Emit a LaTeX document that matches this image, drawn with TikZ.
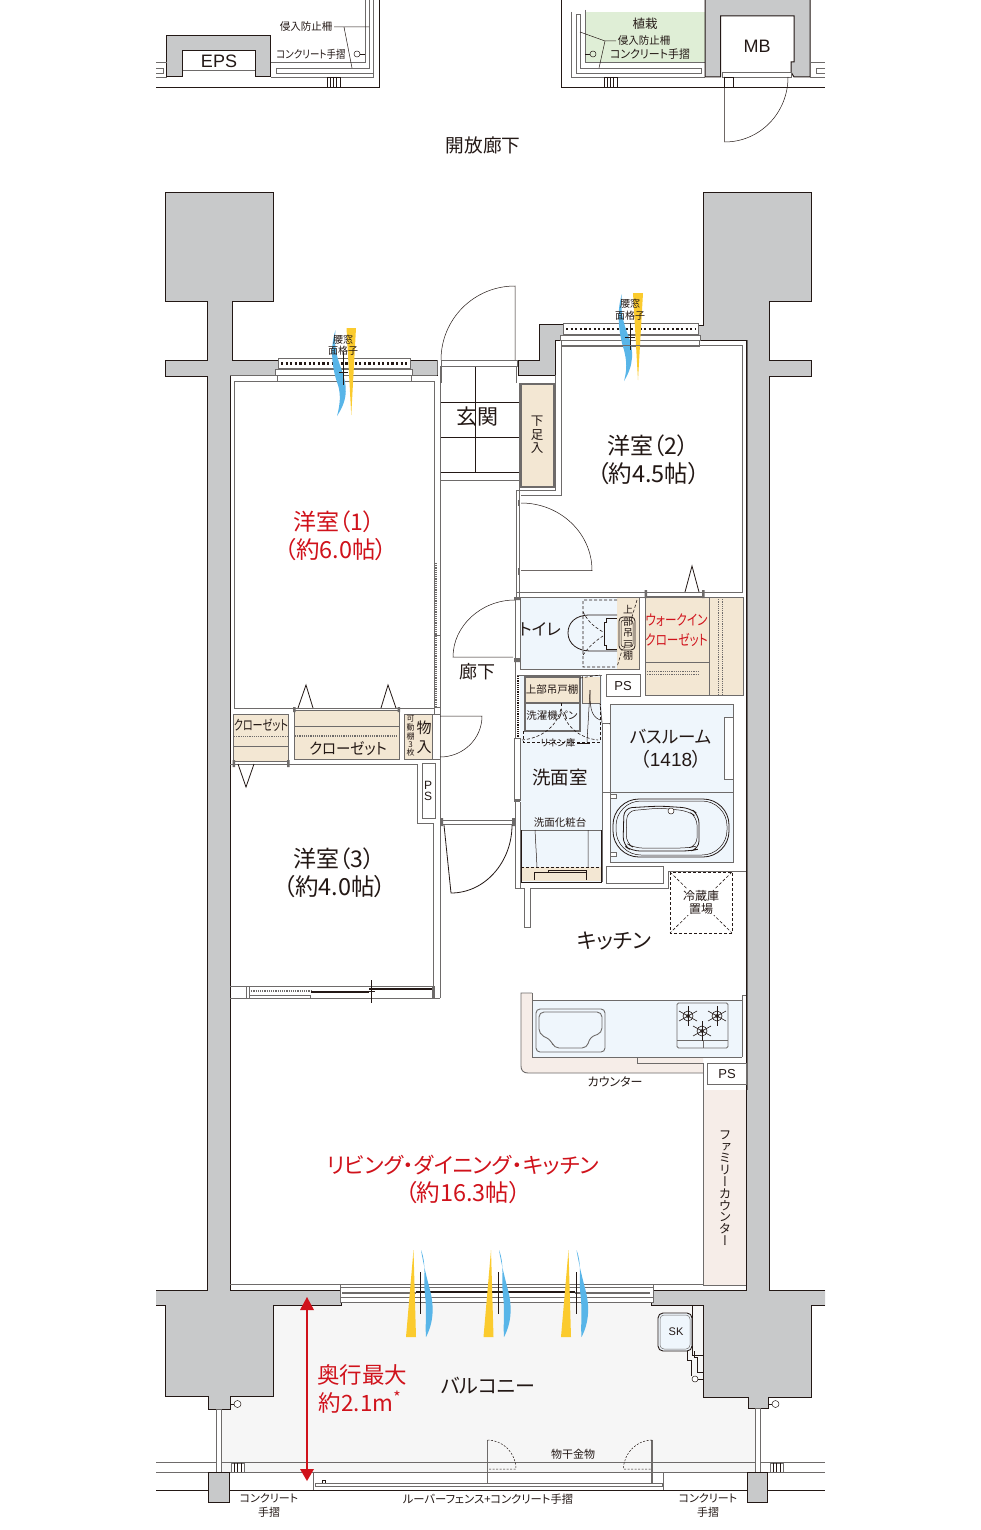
\documentclass[tikz,border=0pt]{standalone}
\usepackage{fontspec}
\newfontfamily\jp[RawFeature=+palt]{Noto Sans CJK JP}
\newfontfamily\jpv[RawFeature=+vert]{Noto Sans CJK JP}
\setmainfont{Liberation Sans}
\newcommand{\fsz}[1]{\fontsize{#1}{#1}\selectfont\lineskiplimit=-30pt\relax}
\definecolor{ink}{HTML}{231815}
\definecolor{wallg}{HTML}{C8C9CA}
\definecolor{part}{HTML}{6E6B6A}
\definecolor{beige}{HTML}{F3E7D3}
\definecolor{lblue}{HTML}{EFF6FC}
\definecolor{pink}{HTML}{F6EDE8}
\definecolor{green1}{HTML}{DFEED6}
\definecolor{balc}{HTML}{F6F6F6}
\definecolor{redt}{HTML}{D0121B}
\definecolor{yel}{HTML}{FBCB2E}
\definecolor{blu}{HTML}{58B5E8}
\newcommand{\lbl}[5]{\node[lbl] (#1) at (#2,#3) {\fsz{#4}#5};}
\newcommand{\rlbl}[5]{\node[lbl,text=redt] (#1) at (#2,#3) {\fsz{#4}#5};}
\newcommand{\nar}[2]{\scalebox{#1}[1]{#2}}
\begin{document}
\begin{tikzpicture}[x=1pt,y=-1pt,
  lbl/.style={inner sep=0pt,outer sep=0pt,text=ink,font=\jp,align=center},
  wl/.style={draw=part,line width=0.9pt},
  blk/.style={draw=ink,line width=0.8pt},
  thin1/.style={draw=ink,line width=0.5pt},
  wallp/.style={draw=ink,line width=1pt,fill=wallg},
  dsh/.style={draw=ink,line width=0.6pt,dash pattern=on 3pt off 2pt},
  dots/.style={draw=ink,line width=2.4pt,dash pattern=on 2.2pt off 2.4pt},
  gdots/.style={draw=part,line width=1.6pt,dash pattern=on 1.2pt off 1pt}]
\useasboundingbox (0,0) rectangle (980,1530);
\fill[white] (0,0) rectangle (980,1530);

% ---------- top strip, left
\draw[wallp] (166.5,77) -- (166.5,36) -- (270.5,36) -- (270.5,77) -- (255,77) -- (255,51) -- (182.5,51) -- (182.5,77) -- cycle;
\draw[wl] (182.5,70) -- (255,70);
\draw[wl] (156,62) -- (166.5,62) (156,77) -- (166.5,77);
\draw[wl] (156,68) -- (163,68) -- (163,73) -- (156,73);
\draw[wl] (270.5,62) -- (365,62) -- (365,0);
\draw[wl] (270.5,77) -- (373,77) -- (373,0);
\draw[wl] (276,68) -- (369,68) -- (369,0);
\draw[wl] (276,68) -- (276,73) -- (373,73);
\draw[blk] (156,87) -- (379,87) -- (379,0);
\draw[thin1] (327,77) rectangle (340,87) (330,77) -- (330,87) (333,77) -- (333,87) (336,77) -- (336,87);
\draw[thin1] (357,54) circle (3);
\draw[thin1] (360,54) -- (365,54);
\draw[thin1] (334,27) -- (369,27) (344,27) -- (352,68);

% ---------- top strip, right
\fill[green1] (585,12) rectangle (705,62);
\draw[blk] (561,0) -- (561,87) -- (825,87);
\draw[wl] (571.5,12) -- (571.5,77) -- (705,77);
\draw[wl] (576,73) -- (576,14) -- (580,14) -- (580,68) -- (701,68) -- (701,73) -- cycle;
\draw[wl] (585,10) -- (585,62) -- (705,62);
\draw[wallp] (705,0) -- (705,77) -- (720.5,77) -- (720.5,16) -- (794,16) -- (794,62) -- (791,62) -- (791,72) -- (794,77) -- (810,77) -- (810,0);
\draw[wl] (810,62) -- (825,62) (810,77) -- (825,77);
\draw[wl] (825,68) -- (816,68) -- (816,73) -- (825,73);
\draw[wl] (722,72) rectangle (791,77);
\draw[thin1] (724.5,77) -- (724.5,142) .. controls (760,142) and (788,113) .. (788,77);
\draw[thin1] (724.5,77) rectangle (733,87);
\draw[thin1] (604,77) rectangle (617,87) (607,77) -- (607,87) (610,77) -- (610,87) (613,77) -- (613,87);
\draw[thin1] (593,54) circle (3);
\draw[thin1] (585,54) -- (590,54);
\draw[thin1] (580,32) -- (605,41) -- (616,41) (605,41) -- (599,68);

% ---------- balcony floor
\fill[balc] (218,1408) -- (230,1396) -- (273,1396) -- (273,1305) -- (340,1302) -- (651,1302) -- (703,1305) -- (703,1397) -- (748,1397) -- (755,1408) -- (755,1472) -- (218,1472) -- cycle;

% ---------- concrete
\draw[wallp] (156,1305) -- (165,1305) -- (165,1396) -- (208,1396) -- (208,1409) -- (230,1409) -- (230,1396) -- (273,1396) -- (273,1305) -- (341,1305) -- (341,1290) -- (230,1290) -- (230,375) -- (278,375) -- (278,360) -- (232,360) -- (232,301) -- (273,301) -- (273,193) -- (165,193) -- (165,301) -- (207,301) -- (207,360) -- (165,360) -- (165,376) -- (207,376) -- (207,1290) -- (156,1290);
\draw[wallp] (825,1305) -- (811,1305) -- (811,1397) -- (768,1397) -- (768,1408) -- (748,1408) -- (748,1397) -- (703,1397) -- (703,1305) -- (651,1305) -- (651,1290) -- (746,1290) -- (746,340) -- (698,340) -- (698,325) -- (703,325) -- (703,193) -- (811,193) -- (811,301) -- (769,301) -- (769,360) -- (811,360) -- (811,376) -- (769,376) -- (769,1290) -- (825,1290);
\draw[wallp] (539,324) -- (563,324) -- (563,340) -- (555,340) -- (555,375) -- (518,375) -- (518,360) -- (539,360) -- cycle;
\draw[wallp] (410,360) -- (437,360) -- (437,375) -- (410,375) -- cycle;

% ---------- windows room 1 and 2
\draw[wl,fill=white] (278,358) rectangle (410,369);
\draw[dots] (281,363.5) -- (408,363.5);
\draw[wl,fill=white] (275,369) rectangle (412,375);
\draw[wl,fill=white] (277,375) rectangle (411,381);
\draw[wl,line width=1.3pt] (278,369) -- (410,369);
\draw[wl,fill=white] (563,323) rectangle (698,335);
\draw[dots] (566,329) -- (696,329);
\draw[wl,fill=white] (560,335) rectangle (700,340);
\draw[wl,fill=white] (561,340) rectangle (699,346);
\draw[wl,line width=1.3pt] (563,335) -- (698,335);

% ---------- LDK window
\draw[wl] (230,1284) -- (340,1284) (653,1284) -- (746,1284);
\draw[wl,fill=white] (340,1284) rectangle (653,1302);
\draw[wl] (340,1287) -- (653,1287) (340,1297) -- (653,1297);
\draw[wl,line width=1.2pt] (342,1293) -- (416,1293);
\draw[blk,line width=1.6pt] (416,1292) -- (575,1292);
\draw[wl,line width=1.2pt] (575,1293) -- (650,1293);

% ---------- flames
\newcommand{\yflame}[4]{\fill[yel] (#1,#2) -- (#1+#3,#2) -- (#1+#3*0.5,#4) -- cycle;}
\yflame{346.5}{328}{9.5}{415}
\yflame{633}{293}{10}{380}
\fill[blu] (335.5,330) .. controls (329,350) and (333,372) .. (338,385) .. controls (341,395) and (340,405) .. (337,416) .. controls (349,398) and (347,385) .. (341,368) .. controls (336,355) and (334,345) .. (335.5,330) -- cycle;
\fill[blu] (622,294) .. controls (616,312) and (619,335) .. (624,350) .. controls (627,362) and (627,370) .. (624,381) .. controls (634,365) and (634,350) .. (628,335) .. controls (623,322) and (620,310) .. (622,294) -- cycle;
\foreach \xa/\xb in {406/421,483.5/499,561/576.5}{
  \fill[yel] (\xa,1337) -- (\xa+10,1337) -- (\xa+7.5,1250) -- cycle;
  \fill[blu] (\xb,1250) .. controls (\xb+6,1265) and (\xb+2,1280) .. (\xb+4,1295) .. controls (\xb+6,1310) and (\xb+4,1325) .. (\xb+5,1337) .. controls (\xb+13,1322) and (\xb+13,1305) .. (\xb+9,1290) .. controls (\xb+5,1275) and (\xb+2,1262) .. (\xb,1250) -- cycle;
}
\draw[thin1] (343.5,352) -- (343.5,385) (339,372) -- (348,372);
\draw[thin1] (630,323) -- (630,350) (625,337) -- (635,337);
\foreach \xx in {420,498,576}{\draw[thin1] (\xx,1272) -- (\xx,1314);}

% ---------- room 1
\draw[wl] (411,381) -- (434.5,381) -- (434.5,708) -- (234,708) -- (234,381) -- (277,381);
\draw[wl] (230,375) -- (275,375) (412,375) -- (437,375);
\draw[wl] (437,360) -- (437,375);
\draw[wl] (440,366) -- (440,707);
\draw[gdots] (436,563) -- (436,707);
\draw[wl] (434.5,635) -- (440,635);
\draw[wl,fill=white] (434.5,707) rectangle (440,714);

% ---------- entrance
\draw[wl] (441,360) rectangle (517,366);
\draw[thin1] (515,360) -- (515,286) .. controls (474,286) and (441,319) .. (441,360);
\draw[wl] (441,367) -- (441,383) (516,367) -- (516,383);
\draw[thin1] (441,402) -- (519,402) (441,437) -- (519,437) (441,472) -- (519,472) (475,367) -- (475,472);
\draw[wl] (441,480) -- (519,480);
\draw[draw=part,line width=2pt,fill=beige] (520.5,384) rectangle (553.5,487);
\draw[wl] (519,383) -- (519,600);
\draw[wl] (516,490) -- (516,600);
\draw[wl] (516,490) -- (555,490) -- (555,375);
\draw[wl] (561,346) -- (561,495) -- (521,495);

% ---------- room 2
\draw[wl] (561,345) -- (742,345) -- (742,592) -- (516,592);
\draw[wl] (747,340) -- (747,1090);
\draw[wl] (520,597) -- (645,597);
\draw[thin1] (521,570.5) -- (592,570.5) .. controls (592,533) and (560,503) .. (521,503);
\draw[thin1,draw=part,line width=1.5pt] (519,500) -- (519,506) (519,568) -- (519,575);
\draw[blk] (685,592) -- (692,566) -- (699,592);

% ---------- walk-in closet
\draw[wl,fill=beige] (645,597) rectangle (743,695);
\draw[wl] (709,597) -- (709,695) (645,662) -- (709,662);
\draw[gdots,line width=.8pt] (718,597) -- (718,695) (722,597) -- (722,695);
\draw[gdots,line width=.8pt] (645,671) -- (700,671) (645,674) -- (700,674);
\draw[wl] (645,592) -- (703,592) (645,596) -- (703,596);
\fill[part] (644.5,590) rectangle (647,598) (702,590) rectangle (704.5,598);

% ---------- toilet
\fill[lblue] (520,597) rectangle (639,669);
\fill[beige] (617,597) rectangle (639,669);
\draw[wl] (520,597) rectangle (639,669);
\draw[dsh] (617,600) -- (583,600) -- (583,667) -- (617,667) (637,600) -- (617,667) ;
\draw[blk] (617,615) -- (590,615) .. controls (575,615) and (568,623) .. (568,633) .. controls (568,644) and (578,651) .. (590,651) -- (617,651);
\draw[blk] (617,618) -- (606,618) -- (606,622) -- (604,622) -- (604,645) -- (606,645) -- (606,649) -- (617,649);
\draw[dsh] (583,612) .. controls (590,625) and (597,628) .. (603,632);
\draw[dsh] (583,655) .. controls (590,645) and (597,640) .. (603,636);
\draw[blk,fill=beige,rounded corners=4pt] (619,617) rectangle (635,650);
\draw[thin1,rounded corners=3pt] (621,620) rectangle (633,647);
% door
\draw[thin1] (513,657) -- (453,657) .. controls (453,626) and (481,600) .. (515,600);
\draw[wl] (515,597) -- (515,888) (520,597) -- (520,657);
\fill[part] (514,597) rectangle (520,600) (514,658) rectangle (520,662);

% ---------- laundry room
\fill[lblue] (520,675) rectangle (602,882);
\fill[beige] (525,677) rectangle (580,703);
\fill[beige] (583,677) rectangle (600,703);
\draw[draw=part,line width=1.6pt] (525,677) rectangle (580,731);
\fill[lblue] (526,704) rectangle (579,730);
\draw[draw=part,line width=1.6pt] (525,703) -- (580,703);
\draw[wl] (517,675) -- (602,675) (582,675) -- (582,703) -- (600,703) -- (600,675);
\draw[wl] (600,703) -- (602,723);
\draw[thin1] (590,690) .. controls (590,705) and (590,716) .. (600,720);
\draw[thin1] (590,690) -- (587,742);
\draw[dsh] (523,731) -- (523,742) -- (600,742) -- (600,704);
\draw[dsh] (561,703) -- (561,708);
\draw[dsh] (580,678) -- (600,675);
\draw[dsh] (522,740) .. controls (543,738) and (558,725) .. (561,708) .. controls (565,725) and (578,738) .. (598,740);
\draw[gdots,draw=ink,line width=1.1pt] (518,676) -- (518,738);
\draw[wl,fill=white] (514.5,738) rectangle (520,800);
\fill[part] (514,799) rectangle (520,802);
\draw[wl] (520,802) -- (520,888) (602,723) -- (602,882);
\draw[wl] (602,723) -- (610,723) (602,792) -- (610,792);
\draw[wl] (610,723) -- (610,792);
\draw[blk] (610,723) -- (622.7,788) -- (610,791);
% vanity
\fill[lblue] (522,830) rectangle (601,882);
\fill[beige] (522,867) rectangle (601,881);
\draw[wl] (521,830) -- (601,830);
\draw[blk,line width=1pt] (521,830) -- (521,882) -- (601,882) -- (601,830);
\draw[dsh] (521,867) -- (601,867);
\draw[thin1] (535,830) -- (537,867) (588,830) -- (588,867);
\draw[thin1] (534,880) -- (534,872) -- (548,872) -- (548,870) -- (586,870) -- (586,880);
\draw[thin1] (548,872) -- (586,872);
% wall below laundry
\draw[wl] (515,888) -- (668,888) -- (668,871) -- (746,871);
\draw[wl,fill=white] (524,888) -- (524,927) -- (530,927) -- (530,888);

% ---------- bathroom
\draw[wl,fill=lblue] (610,704) rectangle (733,862);
\draw[wl] (610,792) -- (733,792);
\draw[wl,fill=white!85!lblue] (724,717) rectangle (733,779);
\draw[blk,rounded corners=26pt] (613,799) -- (729,799) -- (729,857) -- (613,857) -- cycle;
\draw[thin1,rounded corners=25pt] (616,801) -- (727,801) -- (727,855) -- (616,855) -- cycle;
\draw[blk,rounded corners=8pt] (624,808) -- (660,806) -- (690,808) -- (699,815) -- (699,849) -- (690,851) -- (632,851) -- (623,845) -- cycle;
\draw[thin1,rounded corners=8pt] (627,811) -- (660,808) -- (688,811) -- (697,817) -- (697,846) -- (688,848) -- (634,848) -- (626,843) -- cycle;
\draw[thin1,fill=white] (671,811) circle (3);
\draw[wl,fill=white] (610,794) rectangle (616,798) (610,852) rectangle (616,856);

% ---------- PS and small boxes
\draw[wl] (606,674) rectangle (640,696);
\draw[wl] (606,866) rectangle (663,883);
\draw[wl] (422,763) rectangle (435,818);

% ---------- fridge
\draw[dsh] (670,872) rectangle (732,933);
\draw[dsh] (670,872) -- (732,933) (732,872) -- (670,933);
\fill[white] (682,889) rectangle (720,915);

% ---------- closets row
\draw[wl,fill=beige] (233,714) rectangle (288,761);
\draw[gdots] (234,736.5) -- (288,736.5);
\draw[wl] (233,746) -- (288,746);
\draw[wl,fill=beige] (294,710) rectangle (399,759);
\draw[wl] (294,726) -- (399,726);
\draw[gdots] (295,736) -- (398,736);
\draw[wl,fill=beige] (404,714) rectangle (432,759);
\draw[wl] (432,714) rectangle (440,759);
\draw[gdots,line width=.8pt] (432.5,714) -- (432.5,759);
\draw[thin1] (440,716) -- (482,716) .. controls (482,739) and (463,757) .. (440,757);
\draw[wl] (230,764) -- (417,764) -- (417,823) -- (433.5,823);
\draw[wl] (433.5,823) -- (433.5,990);
\draw[wl] (440,759) -- (440,998);
\fill[part] (232.5,760) rectangle (235,767) (287,760) rectangle (289.5,767) (293,707) rectangle (295.5,712) (397.5,707) rectangle (400,712);
\draw[blk] (298,708) -- (306,685) -- (313,708) (381,708) -- (388,685) -- (396,708);
\draw[blk] (238,764) -- (246,787) -- (254,764);

% ---------- room 3 door
\draw[wl] (440,820) -- (515,820) (440,824) -- (515,824);
\fill[part] (440,818) rectangle (443,826) (512,818) rectangle (515,826);
\draw[blk] (444,825) -- (451,893) .. controls (485,893) and (512,862) .. (512,825);

% ---------- room 3 bottom
\draw[wl] (230,986) -- (433.5,986) (230,998) -- (440,998);
\draw[wl,fill=white] (246,986) rectangle (249,998);
\draw[gdots,line width=2pt] (249,991) -- (311,991);
\draw[wl] (249,995) -- (310,995) -- (310,998);
\draw[blk,line width=1.1pt] (311,992) -- (369,992) (369,989) -- (433,989);
\fill[part] (432,986) rectangle (435,998);
\draw[blk,line width=.6pt] (371,980) -- (371,1003) (367,991) -- (375,991);

% ---------- kitchen
\fill[pink] (521,993) -- (532,993) -- (532,1057) -- (703,1057) -- (703,1073) -- (528,1073) .. controls (523,1073) and (521,1070) .. (521,1066) -- cycle;
\fill[lblue] (532,1000) rectangle (742,1057);
\draw[wl] (532,993) -- (521,993) -- (521,1066) .. controls (521,1070) and (523,1073) .. (528,1073) -- (703,1073);
\draw[wl] (532,993) -- (532,1057) -- (742,1057) (532,1000) -- (742,1000);
\draw[wl] (742,995) -- (742,1057) (742,995) -- (746,995);
\draw[draw=part,line width=1.5pt] (637.5,1057) -- (637.5,1064);
\draw[wl] (638,1063) -- (703,1063) -- (703,1090);
\draw[wl] (707,1063) rectangle (746,1084);
\draw[wl] (703,1090) -- (746,1090);
\draw[wl,rounded corners=4pt] (536,1009) rectangle (605,1052);
\draw[wl,rounded corners=5pt] (539,1012) -- (602,1012) -- (602,1033) -- (590,1037) -- (587,1048) -- (554,1048) -- (551,1040) -- (539,1034) -- cycle;
\draw[wl,rounded corners=1.5pt] (677,1003) rectangle (728,1048);
\draw[wl] (677,1040) -- (728,1040) (703,1040) -- (703,1048);
\foreach \bx/\by in {688/1016,717/1016,702/1031}{
  \draw[draw=ink,line width=.6pt] (\bx,\by) circle (5);
  \fill[part] (\bx,\by) circle (2.2);
  \foreach \dx/\dy in {0/-10,0/10,-9/-5,9/-5,-9/5,9/5}{\draw[draw=ink,line width=.6pt] (\bx,\by) -- +(\dx,\dy);}
}
\fill[pink] (703,1090) rectangle (746,1285);
\draw[wl] (703,1090) -- (703,1285) -- (746,1285);

% ---------- balcony fittings
\draw[thin1] (692,1305) -- (692,1355) -- (703,1355);
\draw[draw=ink,line width=.9pt,fill=lblue,rounded corners=5pt] (658,1313) -- (692,1313) -- (692,1351) -- (658,1351) -- cycle;
\draw[draw=part,line width=.5pt,rounded corners=4pt] (660,1315) -- (690,1315) -- (690,1349) -- (660,1349) -- cycle;
\draw[thin1] (687,1351) -- (687,1360) -- (691,1360) -- (691,1376) (694,1351) -- (694,1357) -- (697,1357) -- (697,1372) -- (703,1372);
\draw[thin1,fill=white] (695,1379) circle (3);
\draw[thin1] (698,1379) -- (703,1379);
\draw[thin1,fill=white] (237.5,1404) circle (3.5);
\draw[thin1] (230,1404) -- (234,1404);
\draw[thin1,fill=white] (775.5,1404) circle (3.5);
\draw[thin1] (768,1404) -- (772,1404);
\draw[wl,fill=white] (216,1409) rectangle (221,1472);
\draw[wl,fill=white] (755,1408) rectangle (760,1472);
\draw[wl] (156,1462) -- (216,1462) (221,1462) -- (755,1462) (760,1462) -- (825,1462);
\draw[wl] (156,1472) -- (825,1472);
\draw[blk] (156,1490) -- (825,1490);
\draw[wl,fill=white] (231,1463) rectangle (244,1472);
\draw[thin1] (234,1463) -- (234,1472) (237.5,1463) -- (237.5,1472) (241,1463) -- (241,1472);
\draw[wl,fill=white] (770,1463) rectangle (783,1472);
\draw[thin1] (773,1463) -- (773,1472) (776.5,1463) -- (776.5,1472) (780,1463) -- (780,1472);
\draw[draw=ink,line width=1pt,fill=wallg] (208.5,1472) rectangle (229,1502);
\draw[draw=ink,line width=1pt,fill=wallg] (747,1472) rectangle (767,1502);
\draw[wl] (313.5,1472) -- (313.5,1490) (663,1472) -- (663,1490);
\draw[wl,fill=white] (315,1483) rectangle (662,1486.5);
\draw[thin1] (322,1483) -- (322,1480) -- (325.5,1480) -- (325.5,1483);
\draw[wl,line width=1.2pt] (487.5,1440) -- (487.5,1483);
\draw[wl,line width=1.2pt] (652,1440) -- (652,1483);
\draw[thin1,dash pattern=on 2pt off 1.5pt] (487.5,1440) .. controls (503,1440) and (516,1453) .. (516,1469) -- (488,1469);
\draw[thin1,dash pattern=on 2pt off 1.5pt] (652,1440) .. controls (637,1440) and (623.5,1453) .. (623.5,1469) -- (651,1469);

% ---------- depth arrow
\coordinate (dtop) at (307,1297);
\coordinate (dbot) at (307,1481);
\draw[draw=redt,line width=2pt] (307,1305) -- (307,1473);
\fill[redt] (dtop) -- (300,1310) -- (314,1310) -- cycle;
\fill[redt] (dbot) -- (300,1469) -- (314,1469) -- cycle;

% ---------- labels
\lbl{t-eps}{219}{61}{18}{\rmfamily EPS}
\lbl{t-mb}{757}{46}{18}{\rmfamily MB}
\lbl{t-sak1}{306}{27}{10.5}{侵入防止柵}
\lbl{t-con1}{311}{54}{11}{\nar{.86}{コンクリート手摺}}
\lbl{t-ue}{645}{24}{12.5}{植栽}
\lbl{t-sak2}{644}{41}{10.5}{侵入防止柵}
\lbl{t-con2}{650}{54}{11.5}{\nar{.95}{コンクリート手摺}}
\lbl{t-kaiho}{483}{145}{18.7}{開放廊下}
\rlbl{t-r1}{334}{522}{23}{洋室（1）}
\rlbl{t-r1b}{336}{550}{23.5}{（約6.0帖）}
\lbl{t-r2}{648}{446}{23}{洋室（2）}
\lbl{t-r2b}{648.5}{474}{23.5}{（約4.5帖）}
\lbl{t-r3}{334}{859}{23}{洋室（3）}
\lbl{t-r3b}{335}{887}{23.5}{（約4.0帖）}
\lbl{t-gen}{477}{417}{21}{玄関}
\node[lbl,font=\jp\fsz{12.5}] (t-geta) at (537,435) {下\\[1pt]足\\[1pt]入};
\lbl{t-kw1}{343}{340}{10}{腰窓}
\lbl{t-kw2}{343}{351}{10}{面格子}
\lbl{t-kw3}{630}{304}{10}{腰窓}
\lbl{t-kw4}{630}{316}{10}{面格子}
\lbl{t-rouka}{477}{672}{18}{廊下}
\lbl{t-toi}{540}{629}{16.5}{トイレ}
\node[lbl,font=\jp\fsz{10}] (t-ubt) at (628,633) {上\\[1.5pt]部\\[1.5pt]吊\\[1.5pt]戸\\[1.5pt]棚};
\rlbl{t-wic1}{676.5}{620}{14.5}{\nar{.8}{ウォークイン}}
\rlbl{t-wic2}{676.5}{640}{14.5}{\nar{.8}{クローゼット}}
\lbl{t-ps1}{623}{686}{13}{\rmfamily PS}
\lbl{t-ubt2}{552}{690}{10.5}{上部吊戸棚}
\lbl{t-pan}{552}{716}{10.5}{洗濯機パン}
\lbl{t-lin}{558}{743}{9.5}{リネン庫}
\draw[thin1] (577,743) -- (590,743);
\lbl{t-sen}{560}{777}{18.5}{洗面室}
\lbl{t-kesho}{560}{822}{10.5}{洗面化粧台}
\lbl{t-bath}{671}{737}{17.5}{バスルーム}
\lbl{t-1418}{671}{759}{19}{（{\rmfamily 1418}）}
\lbl{t-rei1}{701}{896}{12}{冷蔵庫}
\lbl{t-rei2}{701}{909}{12}{置場}
\lbl{t-kit}{614}{941}{21}{キッチン}
\lbl{t-cl1}{261}{725}{14}{\nar{.72}{クローゼット}}
\lbl{t-cl2}{348}{749}{15.5}{\nar{.93}{クローゼット}}
\lbl{t-k1}{410.7}{719}{8}{可}
\lbl{t-k2}{410.7}{727.5}{8}{動}
\lbl{t-k3}{410.7}{736}{8}{棚}
\lbl{t-k4}{410.7}{744.5}{8}{3}
\lbl{t-k5}{410.7}{752.5}{8}{枚}
\node[lbl,font=\jp\fsz{15}] (t-mono) at (424,737) {物\\[4pt]入};
\node[lbl,font=\rmfamily\fsz{12}] (t-ps2) at (428,791) {P\\[-1pt]S};
\lbl{t-kaun}{615}{1082}{12}{カウンター}
\lbl{t-ps3}{727}{1074}{13}{\rmfamily PS}
\node[lbl,font=\jpv\fsz{12.5}] (t-fam) at (725,1188) {フ\\[-.7pt]ァ\\[-.7pt]ミ\\[-.7pt]リ\\[-.7pt]ー\\[-.7pt]カ\\[-.7pt]ウ\\[-.7pt]ン\\[-.7pt]タ\\[-.7pt]ー};
\rlbl{t-ldk1}{463}{1165}{21.7}{リビング・ダイニング・キッチン}
\rlbl{t-ldk2}{463}{1193}{23.5}{（約16.3帖）}
\rlbl{t-oku1}{362}{1375}{22.5}{奥行最大}
\rlbl{t-oku2}{360}{1402}{22.5}{約2.1m\textsuperscript{*}}
\lbl{t-bal}{488}{1386}{20}{バルコニー}
\lbl{t-sk}{676}{1332}{11}{\rmfamily SK}
\lbl{t-mh}{573}{1454}{11}{物干金物}
\lbl{t-c1}{269}{1498}{11}{コンクリート}
\lbl{t-c2}{269}{1512}{11}{手摺}
\lbl{t-lv}{488}{1499}{11.3}{ルーバーフェンス+コンクリート手摺}
\lbl{t-c3}{708}{1498}{11}{コンクリート}
\lbl{t-c4}{708}{1512}{11}{手摺}
\end{tikzpicture}
\end{document}
